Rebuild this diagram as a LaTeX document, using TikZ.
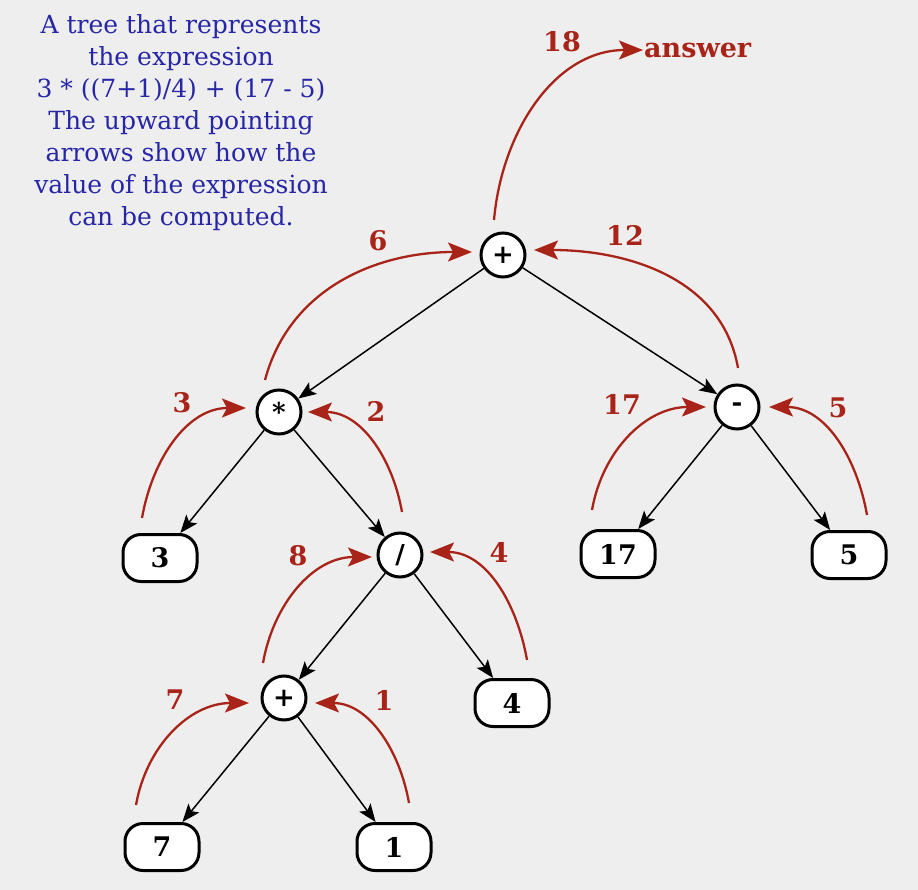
\documentclass[tikz,border=0pt]{standalone}
\usepackage{fontspec}
\setmainfont{DejaVu Serif}
\usetikzlibrary{arrows.meta}
\definecolor{bgc}{HTML}{EEEEEE}
\definecolor{bl}{HTML}{2626A6}
\definecolor{rd}{HTML}{A82418}
\begin{document}
\begin{tikzpicture}[x=1pt,y=1pt,
 opnode/.style={circle,draw,line width=3pt,fill=white,minimum size=44pt,inner sep=0pt,font=\fontsize{26}{26}\selectfont\bfseries},
 leaf/.style={rounded corners=18pt,draw,line width=3pt,fill=white,minimum width=74pt,minimum height=47pt,inner sep=0pt,font=\fontsize{27}{27}\selectfont\bfseries},
 edge/.style={line width=1.5pt,-{Stealth[length=18pt,width=14pt,inset=4pt]}},
 up/.style={rd,line width=2.3pt,-{Stealth[length=24pt,width=19pt,inset=5pt]}},
 lab/.style={rd,font=\fontsize{27}{27}\selectfont\bfseries},
 note/.style={bl,align=center,font=\fontsize{25}{32}\selectfont}]
\fill[bgc] (0,0) rectangle (918,-890);
\useasboundingbox (0,0) rectangle (918,-890);
\node[note] (txt) at (181,-123) {A tree that represents\\the expression\\3 * ((7+1)/4) + (17 - 5)\\The upward pointing\\arrows show how the\\value of the expression\\can be computed.};
% operator nodes
\node[opnode] (root) at (503,-255) {+};
\node[opnode] (mul) at (279,-412) {*};
\node[opnode] (minus) at (737,-407) {-};
\node[opnode] (div) at (400,-555) {/};
\node[opnode] (plus) at (284,-698) {+};
% leaves
\node[leaf] (n3) at (160,-558) {3};
\node[leaf] (n17) at (618,-554) {17};
\node[leaf] (n5) at (849,-555) {5};
\node[leaf] (n4) at (512,-703) {4};
\node[leaf] (n7) at (162,-847) {7};
\node[leaf] (n1) at (394,-847) {1};
% tree edges
\draw[edge] (root) -- (mul);
\draw[edge] (root) -- (minus);
\draw[edge] (mul) -- (n3);
\draw[edge] (mul) -- (div);
\draw[edge] (minus) -- (n17);
\draw[edge] (minus) -- (n5);
\draw[edge] (div) -- (plus);
\draw[edge] (div) -- (n4);
\draw[edge] (plus) -- (n7);
\draw[edge] (plus) -- (n1);
% answer
\node[lab,anchor=west,inner sep=1pt] (ans) at (643,-50) {answer};
% arrow end points
\coordinate (s3) at (142,-518);  \coordinate (e3) at (246,-408);
\coordinate (s2) at (402,-512);  \coordinate (e2) at (308,-412);
\coordinate (s6) at (265,-380);  \coordinate (e6) at (472,-252);
\coordinate (s12) at (738,-368); \coordinate (e12) at (534,-250);
\coordinate (s18) at (494,-220);
\coordinate (s17) at (592,-510); \coordinate (e17) at (706,-407);
\coordinate (s5) at (867,-515);  \coordinate (e5) at (769,-407);
\coordinate (s8) at (263,-663);  \coordinate (e8) at (372,-557);
\coordinate (s4) at (527,-660);  \coordinate (e4) at (430,-552);
\coordinate (s7) at (136,-805);  \coordinate (e7) at (249,-703);
\coordinate (s1) at (409,-803);  \coordinate (e1) at (315,-703);
\draw[up] (s3) to[out=80,in=180] (e3);
\draw[up] (s2) to[out=100,in=0] (e2);
\draw[up] (s6) to[out=75,in=180] (e6);
\draw[up] (s12) to[out=100,in=0] (e12);
\draw[up] (s18) to[out=85,in=180] (ans.west);
\draw[up] (s17) to[out=80,in=180] (e17);
\draw[up] (s5) to[out=100,in=0] (e5);
\draw[up] (s8) to[out=80,in=180] (e8);
\draw[up] (s4) to[out=100,in=0] (e4);
\draw[up] (s7) to[out=80,in=180] (e7);
\draw[up] (s1) to[out=100,in=0] (e1);
% labels
\node[lab] (l3) at (182,-403) {3};
\node[lab] (l2) at (376,-411) {2};
\node[lab] (l6) at (378,-241) {6};
\node[lab] (l12) at (625,-235) {12};
\node[lab] (l18) at (562,-42) {18};
\node[lab] (l17) at (622,-404) {17};
\node[lab] (l5) at (838,-408) {5};
\node[lab] (l8) at (298,-556) {8};
\node[lab] (l4) at (499,-552) {4};
\node[lab] (l7) at (175,-700) {7};
\node[lab] (l1) at (384,-700) {1};
\end{tikzpicture}
\end{document}
